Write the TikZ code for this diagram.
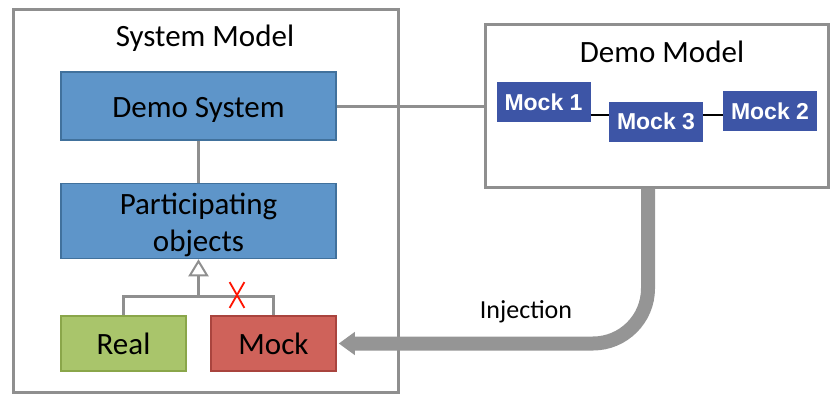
\documentclass[tikz,border=0pt]{standalone}
\usepackage{fontspec}
\setmainfont{Carlito}
\newfontfamily\mockfont{Liberation Sans}
\usetikzlibrary{arrows.meta,positioning,shapes.misc,calc}

\definecolor{objblue}{HTML}{5E95C9}
\definecolor{objblueline}{HTML}{41719C}
\definecolor{realgreen}{HTML}{A9C56B}
\definecolor{realline}{HTML}{8AA64A}
\definecolor{mockred}{HTML}{CF625A}
\definecolor{mockline}{HTML}{A9443E}
\definecolor{demoblue}{HTML}{3D55A6}
\definecolor{framegray}{HTML}{8F8F8F}
\definecolor{injgray}{HTML}{959595}

\newcommand{\lowtext}[2]{\raisebox{-#1}[\height][\depth]{#2}}

\begin{document}
\begin{tikzpicture}[x=1pt,y=-1pt,
                    font=\fontsize{31}{37}\selectfont]
  \tikzstyle{modelbox}=[rectangle,draw=framegray,line width=3pt,fill=white,inner sep=0pt]
  \tikzstyle{block}=[rectangle,line width=1.5pt,inner sep=0pt,align=center]
  \tikzstyle{mockbox}=[rectangle,fill=demoblue,text=white,inner sep=0pt,
                       minimum width=94pt,minimum height=40pt,
                       font=\mockfont\bfseries\fontsize{23}{25}\selectfont]
  \tikzstyle{link}=[draw=framegray,line width=3pt]

  \useasboundingbox (0,0) rectangle (831,394);

  % system model side
  \node[modelbox,minimum width=385pt,minimum height=383pt] (sysmodel) at (205.5,201) {};
  \node (systitle) at (205,38) {System Model};
  \node[block,draw=objblueline,fill=objblue,minimum width=275pt,minimum height=68pt]
       (demosys) at (198.5,106) {\lowtext{4pt}{Demo System}};
  \node[block,draw=objblueline,fill=objblue,minimum width=275pt,minimum height=75pt,
        below=42pt of demosys] (partobj)
       {\lowtext{5pt}{\begin{tabular}{@{}c@{}}Participating\\objects\end{tabular}}};
  \node[block,draw=realline,fill=realgreen,minimum width=125pt,minimum height=55pt]
       (real) at (123.5,343.5) {Real};
  \node[block,draw=mockline,fill=mockred,minimum width=125pt,minimum height=55pt]
       (mock) at (273.5,343.5) {Mock};

  % demo model side
  \node[modelbox,minimum width=343pt,minimum height=163pt] (demomodel) at (656.5,105.5) {};
  \node (demotitle) at (662,52) {Demo Model};
  \node[mockbox] (mock1) at (543.5,102) {Mock 1};
  \node[mockbox] (mock3) at (656,121.5) {Mock 3};
  \node[mockbox] (mock2) at (770,111) {Mock 2};

  \draw[line width=2pt] (mock1.east |- 0,115) -- (mock3.west |- 0,115);
  \draw[line width=2pt] (mock3.east |- 0,115) -- (mock2.west |- 0,115);

  \draw[link] (demosys) -- (partobj);
  \draw[link] (demosys.east) -- (demosys.east -| demomodel.west);

  % generalisation
  \coordinate (fork) at ($(partobj.south)+(0,37)$);
  \draw[link,-{Triangle[open,length=17pt,width=20pt,line width=2pt]},fill=white] (fork) -- (partobj.south);
  \draw[link] (real.north) |- (fork) -| (mock.north);
  \node[cross out,draw=red!85!orange,line width=1.8pt,inner sep=0pt,
        minimum width=13pt,minimum height=24pt] (cut) at (237,295) {};

  % injection
  \draw[injgray,line width=14pt,rounded corners=55pt,shorten >=2pt,
        -{Triangle[length=16pt,width=22pt]}]
       ($(demomodel.south)+(-8.5,0)$) |- (mock.east);
  \node[font=\fontsize{26}{28}\selectfont] (injlabel) at (526,312) {Injection};
\end{tikzpicture}
\end{document}
